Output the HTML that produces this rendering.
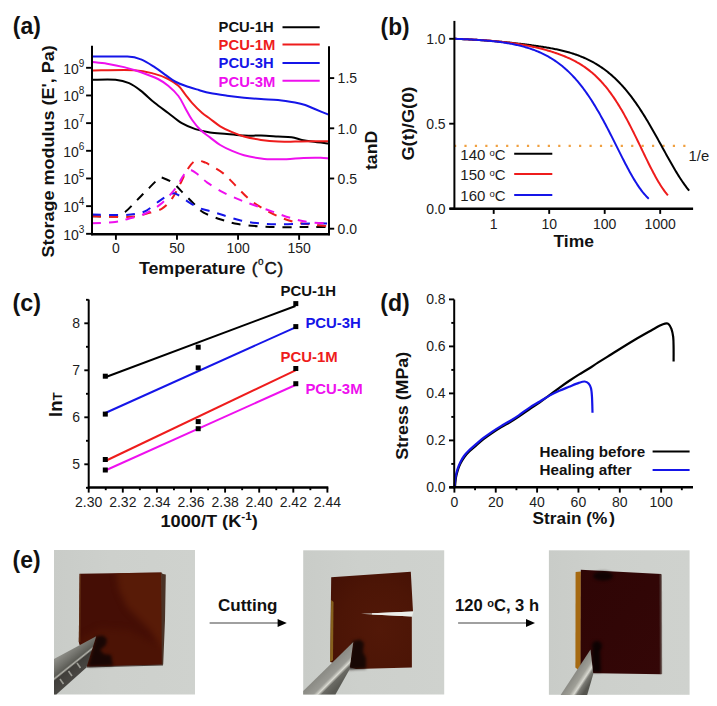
<!DOCTYPE html>
<html><head><meta charset="utf-8"><style>
html,body{margin:0;padding:0;background:#fff;width:717px;height:706px;overflow:hidden}
svg{display:block}
text{font-family:"Liberation Sans",sans-serif}
</style></head><body>
<svg width="717" height="706" viewBox="0 0 717 706">
<rect width="717" height="706" fill="#fff"/>
<text x="12.8" y="34.2" font-size="23" font-weight="bold" fill="#111" text-anchor="start" textLength="28.0" lengthAdjust="spacingAndGlyphs" >(a)</text>
<path d="M92.00,216.20 C95.85,216.20 109.58,216.90 115.10,216.20 C120.62,215.50 121.47,214.65 125.10,212.00 C128.73,209.35 133.27,203.93 136.90,200.30 C140.53,196.67 143.28,193.78 146.90,190.20 C150.52,186.62 155.82,180.80 158.60,178.80 C161.38,176.80 161.08,177.42 163.60,178.20 C166.12,178.98 170.63,181.22 173.70,183.50 C176.77,185.78 178.65,188.55 182.00,191.90 C185.35,195.25 190.20,200.15 193.80,203.60 C197.40,207.05 198.93,209.90 203.60,212.60 C208.27,215.30 216.05,217.90 221.80,219.80 C227.55,221.70 232.07,222.93 238.10,224.00 C244.13,225.07 251.35,225.68 258.00,226.20 C264.65,226.72 271.35,226.95 278.00,227.10 C284.65,227.25 292.17,227.10 297.90,227.10 C303.63,227.10 307.27,227.10 312.40,227.10 C317.53,227.10 325.98,227.10 328.70,227.10" fill="none" stroke="#000" stroke-width="2.00" stroke-linejoin="round" stroke-dasharray="9,8"/>
<path d="M92.00,216.20 C97.25,216.33 116.02,217.00 123.50,217.00 C130.98,217.00 133.00,216.77 136.90,216.20 C140.80,215.63 142.72,214.87 146.90,213.60 C151.08,212.33 157.82,211.10 162.00,208.60 C166.18,206.10 168.93,202.78 172.00,198.60 C175.07,194.42 177.88,188.25 180.40,183.50 C182.92,178.75 184.60,173.87 187.10,170.10 C189.60,166.33 192.33,162.15 195.40,160.90 C198.47,159.65 203.07,161.90 205.50,162.60 C207.93,163.30 206.98,163.27 210.00,165.10 C213.02,166.93 219.22,170.07 223.60,173.60 C227.98,177.13 232.07,182.07 236.30,186.30 C240.53,190.53 244.47,195.23 249.00,199.00 C253.53,202.77 258.37,205.88 263.50,208.90 C268.63,211.92 274.37,214.83 279.80,217.10 C285.23,219.37 290.67,221.23 296.10,222.50 C301.53,223.77 306.97,224.08 312.40,224.70 C317.83,225.32 325.98,225.95 328.70,226.20" fill="none" stroke="#ee1c1c" stroke-width="2.00" stroke-linejoin="round" stroke-dasharray="9,8"/>
<path d="M92.00,214.50 C97.25,214.58 116.02,215.15 123.50,215.00 C130.98,214.85 133.00,214.38 136.90,213.60 C140.80,212.82 143.00,212.52 146.90,210.30 C150.80,208.08 156.12,203.08 160.30,200.30 C164.48,197.52 169.22,194.58 172.00,193.60 C174.78,192.62 174.48,193.15 177.00,194.40 C179.52,195.65 183.47,198.87 187.10,201.10 C190.73,203.33 194.98,206.13 198.80,207.80 C202.62,209.47 205.87,209.85 210.00,211.10 C214.13,212.35 218.32,213.70 223.60,215.30 C228.88,216.90 235.67,219.35 241.70,220.70 C247.73,222.05 253.75,222.80 259.80,223.40 C265.85,224.00 271.95,224.20 278.00,224.30 C284.05,224.40 290.37,224.15 296.10,224.00 C301.83,223.85 306.97,223.50 312.40,223.40 C317.83,223.30 325.98,223.40 328.70,223.40" fill="none" stroke="#1515e8" stroke-width="2.00" stroke-linejoin="round" stroke-dasharray="9,8"/>
<path d="M92.00,223.20 C95.85,223.00 109.02,222.75 115.10,222.00 C121.18,221.25 123.48,220.10 128.50,218.70 C133.52,217.30 139.90,215.98 145.20,213.60 C150.50,211.22 155.83,207.88 160.30,204.40 C164.77,200.92 168.93,196.18 172.00,192.70 C175.07,189.22 176.75,186.43 178.70,183.50 C180.65,180.57 181.75,177.33 183.70,175.10 C185.65,172.87 187.88,170.10 190.40,170.10 C192.92,170.10 195.98,173.02 198.80,175.10 C201.62,177.18 203.17,179.68 207.30,182.60 C211.43,185.52 218.17,189.72 223.60,192.60 C229.03,195.48 234.77,197.78 239.90,199.90 C245.03,202.02 248.97,203.35 254.40,205.30 C259.83,207.25 266.45,209.48 272.50,211.60 C278.55,213.72 284.65,216.23 290.70,218.00 C296.75,219.77 302.47,221.30 308.80,222.20 C315.13,223.10 325.38,223.20 328.70,223.40" fill="none" stroke="#ee10ee" stroke-width="2.00" stroke-linejoin="round" stroke-dasharray="9,8"/>
<path d="M92.50,79.80 C96.33,79.80 109.40,79.23 115.50,79.80 C121.60,80.37 124.85,81.35 129.10,83.20 C133.35,85.05 136.75,87.63 141.00,90.90 C145.25,94.17 150.07,99.12 154.60,102.80 C159.13,106.48 163.67,109.60 168.20,113.00 C172.73,116.40 177.27,120.52 181.80,123.20 C186.33,125.88 190.70,127.57 195.40,129.10 C200.10,130.63 204.73,131.60 210.00,132.40 C215.27,133.20 221.33,133.37 227.00,133.90 C232.67,134.43 238.33,135.32 244.00,135.60 C249.67,135.88 255.33,135.45 261.00,135.60 C266.67,135.75 272.90,136.22 278.00,136.50 C283.10,136.78 287.63,136.73 291.60,137.30 C295.57,137.87 298.40,139.18 301.80,139.90 C305.20,140.62 307.53,140.98 312.00,141.60 C316.47,142.22 325.83,143.27 328.60,143.60" fill="none" stroke="#000" stroke-width="2.00" stroke-linejoin="round" />
<path d="M92.50,70.50 C99.45,70.45 123.85,69.63 134.20,70.20 C144.55,70.77 148.93,72.43 154.60,73.90 C160.27,75.37 164.23,77.02 168.20,79.00 C172.17,80.98 175.57,83.25 178.40,85.80 C181.23,88.35 182.93,91.47 185.20,94.30 C187.47,97.13 189.17,99.68 192.00,102.80 C194.83,105.92 199.20,110.35 202.20,113.00 C205.20,115.65 207.00,116.48 210.00,118.70 C213.00,120.92 216.52,124.05 220.20,126.30 C223.88,128.55 228.13,130.50 232.10,132.20 C236.07,133.90 239.18,135.22 244.00,136.50 C248.82,137.78 255.33,139.05 261.00,139.90 C266.67,140.75 272.33,141.32 278.00,141.60 C283.67,141.88 289.33,141.65 295.00,141.60 C300.67,141.55 306.40,141.35 312.00,141.30 C317.60,141.25 325.83,141.30 328.60,141.30" fill="none" stroke="#ee1c1c" stroke-width="2.00" stroke-linejoin="round" />
<path d="M92.50,56.60 C98.32,56.60 119.32,56.13 127.40,56.60 C135.48,57.07 136.47,57.65 141.00,59.40 C145.53,61.15 150.35,64.40 154.60,67.10 C158.85,69.80 163.10,73.20 166.50,75.60 C169.90,78.00 171.88,79.80 175.00,81.50 C178.12,83.20 181.23,84.38 185.20,85.80 C189.17,87.22 194.67,88.78 198.80,90.00 C202.93,91.22 205.30,92.15 210.00,93.10 C214.70,94.05 221.33,94.93 227.00,95.70 C232.67,96.47 238.33,97.13 244.00,97.70 C249.67,98.27 255.33,98.73 261.00,99.10 C266.67,99.47 272.33,99.33 278.00,99.90 C283.67,100.47 290.47,101.65 295.00,102.50 C299.53,103.35 301.80,103.87 305.20,105.00 C308.60,106.13 311.50,107.70 315.40,109.30 C319.30,110.90 326.40,113.72 328.60,114.60" fill="none" stroke="#1515e8" stroke-width="2.00" stroke-linejoin="round" />
<path d="M92.50,62.00 C94.92,62.28 101.75,62.85 107.00,63.70 C112.25,64.55 118.33,65.68 124.00,67.10 C129.67,68.52 135.33,70.22 141.00,72.20 C146.67,74.18 153.47,76.73 158.00,79.00 C162.53,81.27 164.80,82.97 168.20,85.80 C171.60,88.63 175.57,92.32 178.40,96.00 C181.23,99.68 182.93,103.93 185.20,107.90 C187.47,111.87 189.45,116.12 192.00,119.80 C194.55,123.48 197.50,127.07 200.50,130.00 C203.50,132.93 206.72,134.90 210.00,137.40 C213.28,139.90 216.52,142.75 220.20,145.00 C223.88,147.25 228.13,149.20 232.10,150.90 C236.07,152.60 239.18,153.92 244.00,155.20 C248.82,156.48 256.75,157.93 261.00,158.60 C265.25,159.27 265.25,159.10 269.50,159.20 C273.75,159.30 280.83,159.42 286.50,159.20 C292.17,158.98 297.83,158.15 303.50,157.90 C309.17,157.65 316.32,157.62 320.50,157.70 C324.68,157.78 327.25,158.28 328.60,158.40" fill="none" stroke="#ee10ee" stroke-width="2.00" stroke-linejoin="round" />
<line x1="92.00" y1="45.70" x2="92.00" y2="235.20" stroke="#000" stroke-width="2.00" />
<line x1="329.00" y1="46.30" x2="329.00" y2="235.20" stroke="#000" stroke-width="2.00" />
<line x1="91.10" y1="234.20" x2="329.90" y2="234.20" stroke="#000" stroke-width="2.40" />
<line x1="86.10" y1="233.82" x2="92.00" y2="233.82" stroke="#000" stroke-width="1.90" />
<text x="78.8" y="239.6" font-size="14" font-weight="normal" fill="#1c1c1c" text-anchor="end" >10</text>
<text x="78.7" y="232.5" font-size="10" font-weight="normal" fill="#1c1c1c" text-anchor="start" >3</text>
<line x1="86.10" y1="206.15" x2="92.00" y2="206.15" stroke="#000" stroke-width="1.90" />
<text x="78.8" y="212.0" font-size="14" font-weight="normal" fill="#1c1c1c" text-anchor="end" >10</text>
<text x="78.7" y="204.9" font-size="10" font-weight="normal" fill="#1c1c1c" text-anchor="start" >4</text>
<line x1="86.10" y1="178.48" x2="92.00" y2="178.48" stroke="#000" stroke-width="1.90" />
<text x="78.8" y="184.3" font-size="14" font-weight="normal" fill="#1c1c1c" text-anchor="end" >10</text>
<text x="78.7" y="177.2" font-size="10" font-weight="normal" fill="#1c1c1c" text-anchor="start" >5</text>
<line x1="86.10" y1="150.81" x2="92.00" y2="150.81" stroke="#000" stroke-width="1.90" />
<text x="78.8" y="156.6" font-size="14" font-weight="normal" fill="#1c1c1c" text-anchor="end" >10</text>
<text x="78.7" y="149.5" font-size="10" font-weight="normal" fill="#1c1c1c" text-anchor="start" >6</text>
<line x1="86.10" y1="123.14" x2="92.00" y2="123.14" stroke="#000" stroke-width="1.90" />
<text x="78.8" y="128.9" font-size="14" font-weight="normal" fill="#1c1c1c" text-anchor="end" >10</text>
<text x="78.7" y="121.8" font-size="10" font-weight="normal" fill="#1c1c1c" text-anchor="start" >7</text>
<line x1="86.10" y1="95.47" x2="92.00" y2="95.47" stroke="#000" stroke-width="1.90" />
<text x="78.8" y="101.3" font-size="14" font-weight="normal" fill="#1c1c1c" text-anchor="end" >10</text>
<text x="78.7" y="94.2" font-size="10" font-weight="normal" fill="#1c1c1c" text-anchor="start" >8</text>
<line x1="86.10" y1="67.80" x2="92.00" y2="67.80" stroke="#000" stroke-width="1.90" />
<text x="78.8" y="73.6" font-size="14" font-weight="normal" fill="#1c1c1c" text-anchor="end" >10</text>
<text x="78.7" y="66.5" font-size="10" font-weight="normal" fill="#1c1c1c" text-anchor="start" >9</text>
<line x1="115.90" y1="234.20" x2="115.90" y2="239.80" stroke="#000" stroke-width="1.90" />
<text x="115.9" y="253.2" font-size="14" font-weight="normal" fill="#1c1c1c" text-anchor="middle" >0</text>
<line x1="176.98" y1="234.20" x2="176.98" y2="239.80" stroke="#000" stroke-width="1.90" />
<text x="177.0" y="253.2" font-size="14" font-weight="normal" fill="#1c1c1c" text-anchor="middle" >50</text>
<line x1="238.05" y1="234.20" x2="238.05" y2="239.80" stroke="#000" stroke-width="1.90" />
<text x="238.1" y="253.2" font-size="14" font-weight="normal" fill="#1c1c1c" text-anchor="middle" >100</text>
<line x1="299.12" y1="234.20" x2="299.12" y2="239.80" stroke="#000" stroke-width="1.90" />
<text x="299.1" y="253.2" font-size="14" font-weight="normal" fill="#1c1c1c" text-anchor="middle" >150</text>
<line x1="329.00" y1="228.70" x2="334.20" y2="228.70" stroke="#000" stroke-width="1.90" />
<text x="337.6" y="233.9" font-size="14" font-weight="normal" fill="#1c1c1c" text-anchor="start" >0.0</text>
<line x1="329.00" y1="178.50" x2="334.20" y2="178.50" stroke="#000" stroke-width="1.90" />
<text x="337.6" y="183.7" font-size="14" font-weight="normal" fill="#1c1c1c" text-anchor="start" >0.5</text>
<line x1="329.00" y1="128.30" x2="334.20" y2="128.30" stroke="#000" stroke-width="1.90" />
<text x="337.6" y="133.5" font-size="14" font-weight="normal" fill="#1c1c1c" text-anchor="start" >1.0</text>
<line x1="329.00" y1="78.10" x2="334.20" y2="78.10" stroke="#000" stroke-width="1.90" />
<text x="337.6" y="83.3" font-size="14" font-weight="normal" fill="#1c1c1c" text-anchor="start" >1.5</text>
<text x="138.9" y="274.2" font-size="17" font-weight="bold" fill="#111" text-anchor="start" textLength="106.6" lengthAdjust="spacingAndGlyphs" >Temperature</text>
<text x="251.8" y="274.2" font-size="17" font-weight="normal" fill="#111" text-anchor="start" stroke="#111" stroke-width="0.45">(</text>
<text x="257.9" y="264.8" font-size="10" font-weight="normal" fill="#111" text-anchor="start" stroke="#111" stroke-width="0.3">o</text>
<text x="264.6" y="274.2" font-size="17" font-weight="normal" fill="#111" text-anchor="start" stroke="#111" stroke-width="0.45">C</text>
<text x="277.6" y="274.2" font-size="17" font-weight="normal" fill="#111" text-anchor="start" stroke="#111" stroke-width="0.45">)</text>
<text transform="translate(54,257.6) rotate(-90)" font-size="17" font-weight="bold" fill="#111" textLength="212.3" lengthAdjust="spacingAndGlyphs">Storage modulus (E', Pa)</text>
<text transform="translate(377.0,170.0) rotate(-90)" font-size="17" font-weight="bold" fill="#111" textLength="39.2" lengthAdjust="spacingAndGlyphs">tanD</text>
<text x="218.6" y="31.9" font-size="15" font-weight="bold" fill="#111" text-anchor="start" textLength="55.0" lengthAdjust="spacingAndGlyphs" >PCU-1H</text>
<line x1="282.50" y1="27.20" x2="319.70" y2="27.20" stroke="#000" stroke-width="2.00" />
<text x="218.6" y="49.8" font-size="15" font-weight="bold" fill="#ee1c1c" text-anchor="start" textLength="56.8" lengthAdjust="spacingAndGlyphs" >PCU-1M</text>
<line x1="282.50" y1="44.50" x2="319.70" y2="44.50" stroke="#ee1c1c" stroke-width="2.00" />
<text x="218.6" y="68.3" font-size="15" font-weight="bold" fill="#1515e8" text-anchor="start" textLength="55.0" lengthAdjust="spacingAndGlyphs" >PCU-3H</text>
<line x1="282.50" y1="62.90" x2="319.70" y2="62.90" stroke="#1515e8" stroke-width="2.00" />
<text x="218.6" y="86.6" font-size="15" font-weight="bold" fill="#ee10ee" text-anchor="start" textLength="56.8" lengthAdjust="spacingAndGlyphs" >PCU-3M</text>
<line x1="282.50" y1="80.70" x2="319.70" y2="80.70" stroke="#ee10ee" stroke-width="2.00" />
<text x="380.6" y="35.3" font-size="23" font-weight="bold" fill="#111" text-anchor="start" textLength="29.0" lengthAdjust="spacingAndGlyphs" >(b)</text>
<line x1="454.00" y1="145.80" x2="686.00" y2="145.80" stroke="#f0a040" stroke-width="2.20" stroke-dasharray="2.2,8.22"/>
<path d="M454.50,38.80 L455.50,38.84 L456.50,38.88 L457.50,38.92 L458.50,38.96 L459.50,39.00 L460.50,39.04 L461.50,39.08 L462.50,39.13 L463.50,39.18 L464.50,39.22 L465.50,39.27 L466.50,39.32 L467.50,39.37 L468.50,39.42 L469.50,39.47 L470.50,39.53 L471.50,39.58 L472.50,39.64 L473.50,39.69 L474.50,39.75 L475.50,39.81 L476.50,39.87 L477.50,39.93 L478.50,40.00 L479.50,40.06 L480.50,40.13 L481.50,40.20 L482.50,40.26 L483.50,40.33 L484.50,40.40 L485.50,40.48 L486.50,40.55 L487.50,40.63 L488.50,40.70 L489.50,40.78 L490.50,40.86 L491.50,40.94 L492.50,41.02 L493.50,41.11 L494.50,41.19 L495.50,41.28 L496.50,41.36 L497.50,41.45 L498.50,41.54 L499.50,41.63 L500.50,41.73 L501.50,41.82 L502.50,41.92 L503.50,42.01 L504.50,42.11 L505.50,42.21 L506.50,42.31 L507.50,42.41 L508.50,42.52 L509.50,42.62 L510.50,42.73 L511.50,42.83 L512.50,42.94 L513.50,43.05 L514.50,43.16 L515.50,43.28 L516.50,43.39 L517.50,43.50 L518.50,43.62 L519.50,43.74 L520.50,43.86 L521.50,43.98 L522.50,44.10 L523.50,44.22 L524.50,44.34 L525.50,44.47 L526.50,44.59 L527.50,44.72 L528.50,44.85 L529.50,44.98 L530.50,45.11 L531.50,45.25 L532.50,45.38 L533.50,45.52 L534.50,45.66 L535.50,45.80 L536.50,45.94 L537.50,46.08 L538.50,46.23 L539.50,46.38 L540.50,46.53 L541.50,46.68 L542.50,46.84 L543.50,46.99 L544.50,47.15 L545.50,47.32 L546.50,47.48 L547.50,47.65 L548.50,47.83 L549.50,48.00 L550.50,48.18 L551.50,48.37 L552.50,48.56 L553.50,48.75 L554.50,48.95 L555.50,49.15 L556.50,49.35 L557.50,49.56 L558.50,49.78 L559.50,50.00 L560.50,50.23 L561.50,50.46 L562.50,50.70 L563.50,50.95 L564.50,51.20 L565.50,51.46 L566.50,51.72 L567.50,52.00 L568.50,52.28 L569.50,52.56 L570.50,52.86 L571.50,53.16 L572.50,53.48 L573.50,53.80 L574.50,54.13 L575.50,54.47 L576.50,54.81 L577.50,55.17 L578.50,55.54 L579.50,55.92 L580.50,56.31 L581.50,56.71 L582.50,57.12 L583.50,57.54 L584.50,57.97 L585.50,58.42 L586.50,58.87 L587.50,59.34 L588.50,59.82 L589.50,60.32 L590.50,60.83 L591.50,61.35 L592.50,61.88 L593.50,62.43 L594.50,63.00 L595.50,63.58 L596.50,64.17 L597.50,64.78 L598.50,65.41 L599.50,66.05 L600.50,66.71 L601.50,67.38 L602.50,68.08 L603.50,68.79 L604.50,69.51 L605.50,70.26 L606.50,71.02 L607.50,71.81 L608.50,72.61 L609.50,73.43 L610.50,74.27 L611.50,75.13 L612.50,76.01 L613.50,76.91 L614.50,77.84 L615.50,78.78 L616.50,79.75 L617.50,80.73 L618.50,81.74 L619.50,82.77 L620.50,83.83 L621.50,84.91 L622.50,86.01 L623.50,87.13 L624.50,88.27 L625.50,89.44 L626.50,90.64 L627.50,91.85 L628.50,93.10 L629.50,94.36 L630.50,95.65 L631.50,96.96 L632.50,98.30 L633.50,99.66 L634.50,101.04 L635.50,102.45 L636.50,103.88 L637.50,105.33 L638.50,106.81 L639.50,108.31 L640.50,109.83 L641.50,111.37 L642.50,112.94 L643.50,114.53 L644.50,116.13 L645.50,117.76 L646.50,119.41 L647.50,121.07 L648.50,122.75 L649.50,124.46 L650.50,126.17 L651.50,127.90 L652.50,129.65 L653.50,131.41 L654.50,133.18 L655.50,134.97 L656.50,136.76 L657.50,138.56 L658.50,140.37 L659.50,142.19 L660.50,144.01 L661.50,145.83 L662.50,147.66 L663.50,149.48 L664.50,151.30 L665.50,153.12 L666.50,154.94 L667.50,156.74 L668.50,158.54 L669.50,160.33 L670.50,162.10 L671.50,163.86 L672.50,165.61 L673.50,167.33 L674.50,169.04 L675.50,170.72 L676.50,172.38 L677.50,174.02 L678.50,175.63 L679.50,177.20 L680.50,178.75 L681.50,180.26 L682.50,181.74 L683.50,183.19 L684.50,184.59 L685.50,185.96 L686.50,187.29 L687.50,188.57 L688.50,189.82 L689.20,190.66" fill="none" stroke="#000" stroke-width="2.00" stroke-linejoin="round" />
<path d="M454.50,38.80 L455.50,38.83 L456.50,38.86 L457.50,38.90 L458.50,38.93 L459.50,38.97 L460.50,39.01 L461.50,39.04 L462.50,39.08 L463.50,39.12 L464.50,39.16 L465.50,39.21 L466.50,39.25 L467.50,39.29 L468.50,39.34 L469.50,39.39 L470.50,39.44 L471.50,39.49 L472.50,39.54 L473.50,39.59 L474.50,39.64 L475.50,39.70 L476.50,39.76 L477.50,39.82 L478.50,39.88 L479.50,39.94 L480.50,40.00 L481.50,40.07 L482.50,40.13 L483.50,40.20 L484.50,40.27 L485.50,40.35 L486.50,40.42 L487.50,40.50 L488.50,40.58 L489.50,40.66 L490.50,40.74 L491.50,40.82 L492.50,40.91 L493.50,41.00 L494.50,41.09 L495.50,41.18 L496.50,41.28 L497.50,41.38 L498.50,41.48 L499.50,41.58 L500.50,41.69 L501.50,41.80 L502.50,41.91 L503.50,42.02 L504.50,42.14 L505.50,42.26 L506.50,42.38 L507.50,42.50 L508.50,42.63 L509.50,42.76 L510.50,42.90 L511.50,43.03 L512.50,43.17 L513.50,43.32 L514.50,43.46 L515.50,43.61 L516.50,43.77 L517.50,43.92 L518.50,44.08 L519.50,44.25 L520.50,44.41 L521.50,44.58 L522.50,44.76 L523.50,44.93 L524.50,45.12 L525.50,45.30 L526.50,45.49 L527.50,45.68 L528.50,45.88 L529.50,46.08 L530.50,46.28 L531.50,46.49 L532.50,46.71 L533.50,46.92 L534.50,47.14 L535.50,47.37 L536.50,47.60 L537.50,47.83 L538.50,48.07 L539.50,48.32 L540.50,48.57 L541.50,48.82 L542.50,49.08 L543.50,49.34 L544.50,49.61 L545.50,49.88 L546.50,50.16 L547.50,50.45 L548.50,50.74 L549.50,51.03 L550.50,51.33 L551.50,51.64 L552.50,51.96 L553.50,52.28 L554.50,52.60 L555.50,52.94 L556.50,53.28 L557.50,53.63 L558.50,53.98 L559.50,54.34 L560.50,54.72 L561.50,55.09 L562.50,55.48 L563.50,55.88 L564.50,56.29 L565.50,56.70 L566.50,57.13 L567.50,57.56 L568.50,58.01 L569.50,58.46 L570.50,58.93 L571.50,59.41 L572.50,59.90 L573.50,60.41 L574.50,60.93 L575.50,61.46 L576.50,62.00 L577.50,62.57 L578.50,63.14 L579.50,63.73 L580.50,64.34 L581.50,64.96 L582.50,65.61 L583.50,66.27 L584.50,66.94 L585.50,67.64 L586.50,68.36 L587.50,69.10 L588.50,69.85 L589.50,70.63 L590.50,71.44 L591.50,72.26 L592.50,73.11 L593.50,73.98 L594.50,74.87 L595.50,75.79 L596.50,76.74 L597.50,77.71 L598.50,78.71 L599.50,79.73 L600.50,80.79 L601.50,81.87 L602.50,82.98 L603.50,84.11 L604.50,85.28 L605.50,86.48 L606.50,87.71 L607.50,88.96 L608.50,90.25 L609.50,91.57 L610.50,92.92 L611.50,94.30 L612.50,95.72 L613.50,97.16 L614.50,98.64 L615.50,100.15 L616.50,101.69 L617.50,103.26 L618.50,104.86 L619.50,106.50 L620.50,108.16 L621.50,109.86 L622.50,111.59 L623.50,113.34 L624.50,115.12 L625.50,116.94 L626.50,118.78 L627.50,120.64 L628.50,122.53 L629.50,124.45 L630.50,126.39 L631.50,128.35 L632.50,130.33 L633.50,132.32 L634.50,134.34 L635.50,136.37 L636.50,138.42 L637.50,140.47 L638.50,142.54 L639.50,144.61 L640.50,146.69 L641.50,148.77 L642.50,150.85 L643.50,152.93 L644.50,155.00 L645.50,157.07 L646.50,159.12 L647.50,161.17 L648.50,163.19 L649.50,165.20 L650.50,167.18 L651.50,169.14 L652.50,171.07 L653.50,172.97 L654.50,174.84 L655.50,176.66 L656.50,178.45 L657.50,180.20 L658.50,181.90 L659.50,183.56 L660.50,185.17 L661.50,186.72 L662.50,188.22 L663.50,189.67 L664.50,191.06 L665.50,192.39 L666.50,193.66 L667.50,194.87 L667.90,195.34" fill="none" stroke="#ee1c1c" stroke-width="2.00" stroke-linejoin="round" />
<path d="M454.50,38.80 L455.50,38.83 L456.50,38.87 L457.50,38.90 L458.50,38.94 L459.50,38.97 L460.50,39.01 L461.50,39.05 L462.50,39.09 L463.50,39.13 L464.50,39.17 L465.50,39.22 L466.50,39.26 L467.50,39.31 L468.50,39.36 L469.50,39.41 L470.50,39.46 L471.50,39.52 L472.50,39.57 L473.50,39.63 L474.50,39.69 L475.50,39.75 L476.50,39.81 L477.50,39.88 L478.50,39.94 L479.50,40.01 L480.50,40.08 L481.50,40.16 L482.50,40.23 L483.50,40.31 L484.50,40.39 L485.50,40.48 L486.50,40.56 L487.50,40.65 L488.50,40.74 L489.50,40.84 L490.50,40.93 L491.50,41.04 L492.50,41.14 L493.50,41.25 L494.50,41.36 L495.50,41.47 L496.50,41.59 L497.50,41.71 L498.50,41.84 L499.50,41.96 L500.50,42.10 L501.50,42.24 L502.50,42.38 L503.50,42.52 L504.50,42.67 L505.50,42.83 L506.50,42.99 L507.50,43.16 L508.50,43.33 L509.50,43.50 L510.50,43.68 L511.50,43.87 L512.50,44.06 L513.50,44.26 L514.50,44.47 L515.50,44.68 L516.50,44.90 L517.50,45.12 L518.50,45.36 L519.50,45.59 L520.50,45.84 L521.50,46.09 L522.50,46.36 L523.50,46.62 L524.50,46.90 L525.50,47.19 L526.50,47.48 L527.50,47.79 L528.50,48.10 L529.50,48.42 L530.50,48.75 L531.50,49.10 L532.50,49.45 L533.50,49.81 L534.50,50.18 L535.50,50.57 L536.50,50.96 L537.50,51.37 L538.50,51.79 L539.50,52.22 L540.50,52.67 L541.50,53.12 L542.50,53.59 L543.50,54.08 L544.50,54.58 L545.50,55.09 L546.50,55.61 L547.50,56.16 L548.50,56.71 L549.50,57.29 L550.50,57.87 L551.50,58.48 L552.50,59.10 L553.50,59.74 L554.50,60.40 L555.50,61.07 L556.50,61.76 L557.50,62.48 L558.50,63.21 L559.50,63.96 L560.50,64.73 L561.50,65.52 L562.50,66.33 L563.50,67.16 L564.50,68.01 L565.50,68.89 L566.50,69.78 L567.50,70.70 L568.50,71.64 L569.50,72.61 L570.50,73.60 L571.50,74.61 L572.50,75.65 L573.50,76.71 L574.50,77.80 L575.50,78.91 L576.50,80.05 L577.50,81.21 L578.50,82.40 L579.50,83.62 L580.50,84.86 L581.50,86.13 L582.50,87.43 L583.50,88.75 L584.50,90.11 L585.50,91.48 L586.50,92.89 L587.50,94.32 L588.50,95.78 L589.50,97.27 L590.50,98.79 L591.50,100.33 L592.50,101.90 L593.50,103.49 L594.50,105.11 L595.50,106.76 L596.50,108.44 L597.50,110.14 L598.50,111.86 L599.50,113.61 L600.50,115.38 L601.50,117.17 L602.50,118.99 L603.50,120.83 L604.50,122.69 L605.50,124.56 L606.50,126.46 L607.50,128.37 L608.50,130.30 L609.50,132.25 L610.50,134.20 L611.50,136.17 L612.50,138.15 L613.50,140.13 L614.50,142.13 L615.50,144.13 L616.50,146.13 L617.50,148.13 L618.50,150.13 L619.50,152.13 L620.50,154.12 L621.50,156.11 L622.50,158.08 L623.50,160.04 L624.50,161.99 L625.50,163.92 L626.50,165.83 L627.50,167.72 L628.50,169.59 L629.50,171.43 L630.50,173.23 L631.50,175.01 L632.50,176.75 L633.50,178.46 L634.50,180.13 L635.50,181.75 L636.50,183.34 L637.50,184.88 L638.50,186.37 L639.50,187.81 L640.50,189.20 L641.50,190.55 L642.50,191.84 L643.50,193.07 L644.50,194.26 L645.50,195.38 L646.50,196.46 L647.50,197.47 L648.50,198.44 L648.80,198.71" fill="none" stroke="#1515e8" stroke-width="2.00" stroke-linejoin="round" />
<line x1="454.40" y1="20.90" x2="454.40" y2="209.70" stroke="#000" stroke-width="2.00" />
<line x1="449.50" y1="208.70" x2="693.10" y2="208.70" stroke="#000" stroke-width="2.40" />
<line x1="449.20" y1="208.60" x2="454.40" y2="208.60" stroke="#000" stroke-width="1.90" />
<text x="445.6" y="213.6" font-size="14" font-weight="normal" fill="#1c1c1c" text-anchor="end" >0.0</text>
<line x1="449.20" y1="123.70" x2="454.40" y2="123.70" stroke="#000" stroke-width="1.90" />
<text x="445.6" y="128.7" font-size="14" font-weight="normal" fill="#1c1c1c" text-anchor="end" >0.5</text>
<line x1="449.20" y1="38.80" x2="454.40" y2="38.80" stroke="#000" stroke-width="1.90" />
<text x="445.6" y="43.8" font-size="14" font-weight="normal" fill="#1c1c1c" text-anchor="end" >1.0</text>
<line x1="493.70" y1="208.70" x2="493.70" y2="213.90" stroke="#000" stroke-width="1.90" />
<text x="493.7" y="228.6" font-size="14" font-weight="normal" fill="#1c1c1c" text-anchor="middle" >1</text>
<line x1="549.20" y1="208.70" x2="549.20" y2="213.90" stroke="#000" stroke-width="1.90" />
<text x="549.2" y="228.6" font-size="14" font-weight="normal" fill="#1c1c1c" text-anchor="middle" >10</text>
<line x1="604.70" y1="208.70" x2="604.70" y2="213.90" stroke="#000" stroke-width="1.90" />
<text x="604.7" y="228.6" font-size="14" font-weight="normal" fill="#1c1c1c" text-anchor="middle" >100</text>
<line x1="660.20" y1="208.70" x2="660.20" y2="213.90" stroke="#000" stroke-width="1.90" />
<text x="660.2" y="228.6" font-size="14" font-weight="normal" fill="#1c1c1c" text-anchor="middle" >1000</text>
<text x="553.5" y="247.4" font-size="17" font-weight="bold" fill="#111" text-anchor="start" textLength="40.5" lengthAdjust="spacingAndGlyphs" >Time</text>
<text transform="translate(413.8,160.6) rotate(-90)" font-size="16.5" font-weight="bold" fill="#111" textLength="74.0" lengthAdjust="spacingAndGlyphs">G(t)/G(0)</text>
<text x="688.6" y="160.5" font-size="14.8" font-weight="normal" fill="#1c1c1c" text-anchor="start" >1/e</text>
<text x="460.3" y="160.1" font-size="15" font-weight="normal" fill="#1c1c1c" text-anchor="start" >140 <tspan font-size="9.5" dy="-4.3">o</tspan><tspan dy="4.3">C</tspan></text>
<line x1="514.20" y1="153.80" x2="552.30" y2="153.80" stroke="#000" stroke-width="2.00" />
<text x="460.3" y="180.2" font-size="15" font-weight="normal" fill="#1c1c1c" text-anchor="start" >150 <tspan font-size="9.5" dy="-4.3">o</tspan><tspan dy="4.3">C</tspan></text>
<line x1="514.20" y1="173.90" x2="552.30" y2="173.90" stroke="#ee1c1c" stroke-width="2.00" />
<text x="460.3" y="201.3" font-size="15" font-weight="normal" fill="#1c1c1c" text-anchor="start" >160 <tspan font-size="9.5" dy="-4.3">o</tspan><tspan dy="4.3">C</tspan></text>
<line x1="514.20" y1="195.00" x2="552.30" y2="195.00" stroke="#1515e8" stroke-width="2.00" />
<text x="12.5" y="311.0" font-size="23" font-weight="bold" fill="#111" text-anchor="start" textLength="28.5" lengthAdjust="spacingAndGlyphs" >(c)</text>
<line x1="105.30" y1="377.20" x2="295.50" y2="306.00" stroke="#000" stroke-width="2.00" />
<line x1="105.30" y1="413.00" x2="295.50" y2="327.30" stroke="#1515e8" stroke-width="2.00" />
<line x1="105.30" y1="461.00" x2="295.50" y2="370.30" stroke="#ee1c1c" stroke-width="2.00" />
<line x1="105.30" y1="470.50" x2="295.50" y2="385.00" stroke="#ee10ee" stroke-width="2.00" />
<rect x="102.8" y="373.7" width="5" height="5" fill="#000"/>
<rect x="195.7" y="344.7" width="5" height="5" fill="#000"/>
<rect x="293.3" y="301.1" width="5" height="5" fill="#000"/>
<rect x="102.8" y="411.6" width="5" height="5" fill="#000"/>
<rect x="195.7" y="365.4" width="5" height="5" fill="#000"/>
<rect x="293.3" y="324.1" width="5" height="5" fill="#000"/>
<rect x="102.8" y="457.0" width="5" height="5" fill="#000"/>
<rect x="195.7" y="419.1" width="5" height="5" fill="#000"/>
<rect x="293.3" y="366.0" width="5" height="5" fill="#000"/>
<rect x="102.8" y="467.5" width="5" height="5" fill="#000"/>
<rect x="195.7" y="426.2" width="5" height="5" fill="#000"/>
<rect x="293.3" y="381.2" width="5" height="5" fill="#000"/>
<line x1="88.70" y1="299.50" x2="88.70" y2="488.50" stroke="#000" stroke-width="2.00" />
<line x1="87.80" y1="487.50" x2="328.30" y2="487.50" stroke="#000" stroke-width="2.40" />
<line x1="86.00" y1="487.80" x2="88.70" y2="487.80" stroke="#000" stroke-width="1.90" />
<line x1="84.30" y1="464.30" x2="88.70" y2="464.30" stroke="#000" stroke-width="1.90" />
<text x="80.0" y="469.3" font-size="14" font-weight="normal" fill="#1c1c1c" text-anchor="end" >5</text>
<line x1="86.00" y1="440.80" x2="88.70" y2="440.80" stroke="#000" stroke-width="1.90" />
<line x1="84.30" y1="417.30" x2="88.70" y2="417.30" stroke="#000" stroke-width="1.90" />
<text x="80.0" y="422.3" font-size="14" font-weight="normal" fill="#1c1c1c" text-anchor="end" >6</text>
<line x1="86.00" y1="393.80" x2="88.70" y2="393.80" stroke="#000" stroke-width="1.90" />
<line x1="84.30" y1="370.30" x2="88.70" y2="370.30" stroke="#000" stroke-width="1.90" />
<text x="80.0" y="375.3" font-size="14" font-weight="normal" fill="#1c1c1c" text-anchor="end" >7</text>
<line x1="86.00" y1="346.80" x2="88.70" y2="346.80" stroke="#000" stroke-width="1.90" />
<line x1="84.30" y1="323.30" x2="88.70" y2="323.30" stroke="#000" stroke-width="1.90" />
<text x="80.0" y="328.3" font-size="14" font-weight="normal" fill="#1c1c1c" text-anchor="end" >8</text>
<line x1="86.00" y1="299.80" x2="88.70" y2="299.80" stroke="#000" stroke-width="1.90" />
<line x1="88.70" y1="487.50" x2="88.70" y2="492.60" stroke="#000" stroke-width="1.90" />
<text x="88.7" y="507.0" font-size="14" font-weight="normal" fill="#1c1c1c" text-anchor="middle" >2.30</text>
<line x1="105.75" y1="487.50" x2="105.75" y2="490.20" stroke="#000" stroke-width="1.90" />
<line x1="122.80" y1="487.50" x2="122.80" y2="492.60" stroke="#000" stroke-width="1.90" />
<text x="122.8" y="507.0" font-size="14" font-weight="normal" fill="#1c1c1c" text-anchor="middle" >2.32</text>
<line x1="139.85" y1="487.50" x2="139.85" y2="490.20" stroke="#000" stroke-width="1.90" />
<line x1="156.90" y1="487.50" x2="156.90" y2="492.60" stroke="#000" stroke-width="1.90" />
<text x="156.9" y="507.0" font-size="14" font-weight="normal" fill="#1c1c1c" text-anchor="middle" >2.34</text>
<line x1="173.95" y1="487.50" x2="173.95" y2="490.20" stroke="#000" stroke-width="1.90" />
<line x1="191.00" y1="487.50" x2="191.00" y2="492.60" stroke="#000" stroke-width="1.90" />
<text x="191.0" y="507.0" font-size="14" font-weight="normal" fill="#1c1c1c" text-anchor="middle" >2.36</text>
<line x1="208.05" y1="487.50" x2="208.05" y2="490.20" stroke="#000" stroke-width="1.90" />
<line x1="225.10" y1="487.50" x2="225.10" y2="492.60" stroke="#000" stroke-width="1.90" />
<text x="225.1" y="507.0" font-size="14" font-weight="normal" fill="#1c1c1c" text-anchor="middle" >2.38</text>
<line x1="242.15" y1="487.50" x2="242.15" y2="490.20" stroke="#000" stroke-width="1.90" />
<line x1="259.20" y1="487.50" x2="259.20" y2="492.60" stroke="#000" stroke-width="1.90" />
<text x="259.2" y="507.0" font-size="14" font-weight="normal" fill="#1c1c1c" text-anchor="middle" >2.40</text>
<line x1="276.25" y1="487.50" x2="276.25" y2="490.20" stroke="#000" stroke-width="1.90" />
<line x1="293.30" y1="487.50" x2="293.30" y2="492.60" stroke="#000" stroke-width="1.90" />
<text x="293.3" y="507.0" font-size="14" font-weight="normal" fill="#1c1c1c" text-anchor="middle" >2.42</text>
<line x1="310.35" y1="487.50" x2="310.35" y2="490.20" stroke="#000" stroke-width="1.90" />
<line x1="327.40" y1="487.50" x2="327.40" y2="492.60" stroke="#000" stroke-width="1.90" />
<text x="327.4" y="507.0" font-size="14" font-weight="normal" fill="#1c1c1c" text-anchor="middle" >2.44</text>
<text x="160.4" y="527.2" font-size="17" font-weight="bold" fill="#111" text-anchor="start" textLength="97.5" lengthAdjust="spacingAndGlyphs" >1000/T (K<tspan font-size="11" dy="-7.5">-1</tspan><tspan dy="7.5">)</tspan></text>
<text transform="translate(61.6,417.0) rotate(-90)" font-size="18.5" font-weight="bold" fill="#111">ln<tspan font-size="13.5">T</tspan></text>
<text x="280.6" y="295.6" font-size="15" font-weight="bold" fill="#111" text-anchor="start" textLength="55.5" lengthAdjust="spacingAndGlyphs" >PCU-1H</text>
<text x="305.4" y="328.2" font-size="15" font-weight="bold" fill="#1515e8" text-anchor="start" textLength="55.5" lengthAdjust="spacingAndGlyphs" >PCU-3H</text>
<text x="280.6" y="362.3" font-size="15" font-weight="bold" fill="#ee1c1c" text-anchor="start" textLength="57.2" lengthAdjust="spacingAndGlyphs" >PCU-1M</text>
<text x="305.4" y="394.2" font-size="15" font-weight="bold" fill="#ee10ee" text-anchor="start" textLength="57.2" lengthAdjust="spacingAndGlyphs" >PCU-3M</text>
<text x="380.3" y="311.3" font-size="23" font-weight="bold" fill="#111" text-anchor="start" textLength="29.5" lengthAdjust="spacingAndGlyphs" >(d)</text>
<path d="M454.90,487.60 C455.08,485.90 455.50,480.37 456.00,477.40 C456.50,474.43 457.13,472.15 457.90,469.80 C458.67,467.45 459.52,465.43 460.60,463.30 C461.68,461.17 462.92,459.00 464.40,457.00 C465.88,455.00 467.57,453.20 469.50,451.30 C471.43,449.40 473.67,447.62 476.00,445.60 C478.33,443.58 480.77,441.33 483.50,439.20 C486.23,437.07 489.42,434.82 492.40,432.80 C495.38,430.78 498.42,428.90 501.40,427.10 C504.38,425.30 507.33,423.80 510.30,422.00 C513.27,420.20 516.02,418.42 519.20,416.30 C522.38,414.18 525.97,411.63 529.40,409.30 C532.83,406.97 536.45,404.67 539.80,402.30 C543.15,399.93 546.25,397.52 549.50,395.10 C552.75,392.68 556.05,390.15 559.30,387.80 C562.55,385.45 565.75,383.20 569.00,381.00 C572.25,378.80 575.53,376.63 578.80,374.60 C582.07,372.57 585.35,370.83 588.60,368.80 C591.85,366.77 594.57,364.78 598.30,362.40 C602.03,360.02 605.05,358.18 611.00,354.50 C616.95,350.82 627.17,344.38 634.00,340.30 C640.83,336.22 647.67,332.45 652.00,330.00 C656.33,327.55 657.83,326.67 660.00,325.60 C662.17,324.53 663.58,323.87 665.00,323.60 C666.42,323.33 667.43,323.12 668.50,324.00 C669.57,324.88 670.62,326.73 671.40,328.90 C672.18,331.07 672.83,333.82 673.20,337.00 C673.57,340.18 673.53,343.90 673.60,348.00 C673.67,352.10 673.60,359.33 673.60,361.60" fill="none" stroke="#000" stroke-width="2.20" stroke-linejoin="round" />
<path d="M454.50,487.20 C454.70,485.40 455.18,479.47 455.70,476.40 C456.22,473.33 456.85,471.13 457.60,468.80 C458.35,466.47 459.13,464.53 460.20,462.40 C461.27,460.27 462.52,458.02 464.00,456.00 C465.48,453.98 467.18,452.20 469.10,450.30 C471.02,448.40 473.17,446.62 475.50,444.60 C477.83,442.58 480.35,440.33 483.10,438.20 C485.85,436.07 489.02,433.82 492.00,431.80 C494.98,429.78 498.02,427.90 501.00,426.10 C503.98,424.30 506.93,422.80 509.90,421.00 C512.87,419.20 515.45,417.58 518.80,415.30 C522.15,413.02 526.50,409.60 530.00,407.30 C533.50,405.00 536.55,403.45 539.80,401.50 C543.05,399.55 546.25,397.38 549.50,395.60 C552.75,393.82 556.05,392.27 559.30,390.80 C562.55,389.33 565.75,388.12 569.00,386.80 C572.25,385.48 576.18,383.78 578.80,382.90 C581.42,382.02 583.07,381.42 584.70,381.50 C586.33,381.58 587.55,382.27 588.60,383.40 C589.65,384.53 590.43,386.02 591.00,388.30 C591.57,390.58 591.75,393.03 592.00,397.10 C592.25,401.17 592.42,410.10 592.50,412.70" fill="none" stroke="#1515e8" stroke-width="2.20" stroke-linejoin="round" />
<line x1="454.20" y1="299.50" x2="454.20" y2="488.20" stroke="#000" stroke-width="2.00" />
<line x1="449.30" y1="487.20" x2="693.00" y2="487.20" stroke="#000" stroke-width="2.40" />
<line x1="449.00" y1="487.40" x2="454.20" y2="487.40" stroke="#000" stroke-width="1.90" />
<text x="445.6" y="492.4" font-size="14" font-weight="normal" fill="#1c1c1c" text-anchor="end" >0.0</text>
<line x1="451.30" y1="463.90" x2="454.20" y2="463.90" stroke="#000" stroke-width="1.90" />
<line x1="449.00" y1="440.40" x2="454.20" y2="440.40" stroke="#000" stroke-width="1.90" />
<text x="445.6" y="445.4" font-size="14" font-weight="normal" fill="#1c1c1c" text-anchor="end" >0.2</text>
<line x1="451.30" y1="416.90" x2="454.20" y2="416.90" stroke="#000" stroke-width="1.90" />
<line x1="449.00" y1="393.40" x2="454.20" y2="393.40" stroke="#000" stroke-width="1.90" />
<text x="445.6" y="398.4" font-size="14" font-weight="normal" fill="#1c1c1c" text-anchor="end" >0.4</text>
<line x1="451.30" y1="369.90" x2="454.20" y2="369.90" stroke="#000" stroke-width="1.90" />
<line x1="449.00" y1="346.40" x2="454.20" y2="346.40" stroke="#000" stroke-width="1.90" />
<text x="445.6" y="351.4" font-size="14" font-weight="normal" fill="#1c1c1c" text-anchor="end" >0.6</text>
<line x1="451.30" y1="322.90" x2="454.20" y2="322.90" stroke="#000" stroke-width="1.90" />
<line x1="449.00" y1="299.40" x2="454.20" y2="299.40" stroke="#000" stroke-width="1.90" />
<text x="445.6" y="304.4" font-size="14" font-weight="normal" fill="#1c1c1c" text-anchor="end" >0.8</text>
<line x1="454.40" y1="487.20" x2="454.40" y2="492.60" stroke="#000" stroke-width="1.90" />
<text x="454.4" y="507.2" font-size="14" font-weight="normal" fill="#1c1c1c" text-anchor="middle" >0</text>
<line x1="475.07" y1="487.20" x2="475.07" y2="490.20" stroke="#000" stroke-width="1.90" />
<line x1="495.75" y1="487.20" x2="495.75" y2="492.60" stroke="#000" stroke-width="1.90" />
<text x="495.8" y="507.2" font-size="14" font-weight="normal" fill="#1c1c1c" text-anchor="middle" >20</text>
<line x1="516.42" y1="487.20" x2="516.42" y2="490.20" stroke="#000" stroke-width="1.90" />
<line x1="537.10" y1="487.20" x2="537.10" y2="492.60" stroke="#000" stroke-width="1.90" />
<text x="537.1" y="507.2" font-size="14" font-weight="normal" fill="#1c1c1c" text-anchor="middle" >40</text>
<line x1="557.77" y1="487.20" x2="557.77" y2="490.20" stroke="#000" stroke-width="1.90" />
<line x1="578.45" y1="487.20" x2="578.45" y2="492.60" stroke="#000" stroke-width="1.90" />
<text x="578.4" y="507.2" font-size="14" font-weight="normal" fill="#1c1c1c" text-anchor="middle" >60</text>
<line x1="599.12" y1="487.20" x2="599.12" y2="490.20" stroke="#000" stroke-width="1.90" />
<line x1="619.80" y1="487.20" x2="619.80" y2="492.60" stroke="#000" stroke-width="1.90" />
<text x="619.8" y="507.2" font-size="14" font-weight="normal" fill="#1c1c1c" text-anchor="middle" >80</text>
<line x1="640.47" y1="487.20" x2="640.47" y2="490.20" stroke="#000" stroke-width="1.90" />
<line x1="661.15" y1="487.20" x2="661.15" y2="492.60" stroke="#000" stroke-width="1.90" />
<text x="661.1" y="507.2" font-size="14" font-weight="normal" fill="#1c1c1c" text-anchor="middle" >100</text>
<line x1="681.82" y1="487.20" x2="681.82" y2="490.20" stroke="#000" stroke-width="1.90" />
<text x="532.6" y="523.9" font-size="17" font-weight="bold" fill="#111" text-anchor="start" textLength="82.5" lengthAdjust="spacingAndGlyphs" >Strain (%<tspan dx="2">)</tspan></text>
<text transform="translate(408.3,459.8) rotate(-90)" font-size="17" font-weight="bold" fill="#111" textLength="108" lengthAdjust="spacingAndGlyphs">Stress (MPa)</text>
<text x="539.6" y="456.9" font-size="15" font-weight="bold" fill="#111" text-anchor="start" textLength="105.5" lengthAdjust="spacingAndGlyphs" >Healing before</text>
<text x="539.6" y="474.9" font-size="15" font-weight="bold" fill="#111" text-anchor="start" textLength="92.2" lengthAdjust="spacingAndGlyphs" >Healing after</text>
<line x1="652.60" y1="451.60" x2="689.60" y2="451.60" stroke="#000" stroke-width="2.00" />
<line x1="652.60" y1="469.90" x2="689.60" y2="469.90" stroke="#1515e8" stroke-width="2.00" />
<text x="12.6" y="567.5" font-size="23" font-weight="bold" fill="#111" text-anchor="start" textLength="28.0" lengthAdjust="spacingAndGlyphs" >(e)</text>
<defs>
<filter id="soft" color-interpolation-filters="sRGB" x="-5%" y="-5%" width="110%" height="110%"><feGaussianBlur stdDeviation="0.6"/></filter>
<filter id="blur3" color-interpolation-filters="sRGB" x="-20%" y="-20%" width="140%" height="140%"><feGaussianBlur stdDeviation="3"/></filter>
<filter id="blur2" color-interpolation-filters="sRGB" x="-50%" y="-50%" width="200%" height="200%"><feGaussianBlur stdDeviation="1.8"/></filter>
<linearGradient id="bg1" x1="0" y1="0" x2="1" y2="0"><stop offset="0" stop-color="#c9ccc8"/><stop offset="0.4" stop-color="#cdd0cc"/><stop offset="1" stop-color="#cfd2ce"/></linearGradient>
<linearGradient id="br1" x1="0" y1="0.2" x2="1" y2="0.8"><stop offset="0" stop-color="#440d05"/><stop offset="0.45" stop-color="#4a1105"/><stop offset="0.6" stop-color="#521707"/><stop offset="1" stop-color="#581a08"/></linearGradient>
<radialGradient id="br2" cx="0.6" cy="0.6" r="0.8"><stop offset="0" stop-color="#521808"/><stop offset="0.6" stop-color="#4c1506"/><stop offset="1" stop-color="#441005"/></radialGradient>
<linearGradient id="br3" x1="0" y1="0" x2="1" y2="1"><stop offset="0" stop-color="#2e0505"/><stop offset="1" stop-color="#340707"/></linearGradient>
<linearGradient id="tw1" gradientUnits="userSpaceOnUse" x1="58" y1="643" x2="82" y2="673"><stop offset="0.3" stop-color="#8c8c86"/><stop offset="0.5" stop-color="#70706a"/><stop offset="0.63" stop-color="#5c5c56"/><stop offset="0.67" stop-color="#b4b4ac"/><stop offset="0.71" stop-color="#403e3a"/><stop offset="1" stop-color="#4a4844"/></linearGradient>
<linearGradient id="tw2" gradientUnits="userSpaceOnUse" x1="320" y1="660" x2="345" y2="685"><stop offset="0.3" stop-color="#8a8a84"/><stop offset="0.55" stop-color="#9a9a94"/><stop offset="0.64" stop-color="#d8d8d0"/><stop offset="0.72" stop-color="#6a6a64"/><stop offset="0.9" stop-color="#5a5a54"/></linearGradient>
<linearGradient id="tw3" gradientUnits="userSpaceOnUse" x1="568" y1="676" x2="588.9" y2="689.8"><stop offset="0.17" stop-color="#8a8a84"/><stop offset="0.45" stop-color="#a0a098"/><stop offset="0.6" stop-color="#d8d8d0"/><stop offset="0.7" stop-color="#7a7a74"/><stop offset="0.9" stop-color="#55554f"/></linearGradient>
</defs>
<!-- photo 1 -->
<rect x="54" y="550" width="141" height="144.5" fill="url(#bg1)"/>
<g filter="url(#soft)">
<path d="M79.5,573.8 L161.5,572.6 L162.6,664.6 L87,666.6 L78.8,642 Z" fill="#450e05"/>
<clipPath id="film1"><path d="M79.5,573.8 L161.5,572.6 L162.6,664.6 L87,666.6 L78.8,642 Z"/></clipPath>
<g clip-path="url(#film1)"><g filter="url(#blur3)">
<path d="M116,570 L166,570 L166,655 L150,630 L127,607 L119,590 Z" fill="#581b07"/>
<path d="M78,640 L100,628 L130,630 L166,650 L166,670 L78,670 Z" fill="#4c1305"/>
</g></g>
<path d="M161.2,572.8 L163,574 L165.8,574.4 L165,620 L163.2,664.6 L161.8,664.8 Z" fill="#4a3226"/>
<path d="M79.5,574 L78.8,642 L80.4,642 L81,574 Z" fill="#6a3a18" opacity="0.6"/>
<path d="M87,666.6 L162.6,664.6 L163.2,665.6 L87,667.6 Z" fill="#2a1a14" opacity="0.8"/>
</g>
<g filter="url(#blur2)">
<path d="M96,636.5 L103,635.5 L107,639 L106,645 L100,650 L104,654 L111,655 L113,665.5 L88,666.5 Z" fill="#140604" opacity="0.9"/>
</g>
<g filter="url(#soft)">
<path d="M54,659.1 L96.2,636.2 L86.5,667.5 L56.3,694.5 L54,694.5 Z" fill="url(#tw1)"/>
<g stroke="#b8b8b0" stroke-width="1.6" opacity="0.75"><line x1="60" y1="679" x2="63.5" y2="684"/><line x1="68.5" y1="671" x2="72" y2="676"/><line x1="77" y1="663" x2="80.5" y2="668"/></g>
</g>
<!-- photo 2 -->
<rect x="303.2" y="550.3" width="141" height="144.2" fill="url(#bg1)"/>
<g filter="url(#soft)">
<path d="M331.2,577.2 L410.8,571.8 L413,611.6 L372,613.2 L361,613.8 L372,614.4 L411.8,616.4 L411.9,667.6 L356,668.9 L330.1,662 Z" fill="url(#br2)"/>
<path d="M331.2,600 L330.1,662 L333,660 L333.5,602 Z" fill="#a88a2a" opacity="0.65"/>
<path d="M372,613.2 L413,611.6 L413.5,611.6 L412,616.4 L372,614.4 Z" fill="#eceeea"/>
<path d="M362,613.6 L372,613.0 L372,614.3 Z" fill="#8a6a60" opacity="0.6"/>
</g>
<g filter="url(#blur2)">
<path d="M353,641 L360,639.5 L364,643 L363,652 L366,658 L366,668.5 L348,669.5 Z" fill="#140604" opacity="0.92"/>
</g>
<g filter="url(#soft)">
<path d="M303.2,691.1 L353.3,642.1 L349.5,669.5 L335.5,694.5 L303.2,694.5 Z" fill="url(#tw2)"/>
</g>
<!-- photo 3 -->
<rect x="548.9" y="550.3" width="140.7" height="144.5" fill="url(#bg1)"/>
<g filter="url(#soft)">
<path d="M575.6,572 L580.8,571.6 L580.8,672 L575.4,667.4 Z" fill="#a66a12"/>
<path d="M580.8,569.8 L661.2,574 L661.5,674.2 L580.5,673 Z" fill="url(#br3)"/>
<path d="M659.5,574 L662,574.5 L662.2,674 L659.8,674 Z" fill="#5a4a44" opacity="0.6"/>
</g>
<g filter="url(#blur2)">
<ellipse cx="603" cy="576" rx="10" ry="4.5" fill="#0a0202" opacity="0.85"/>
<ellipse cx="597" cy="646" rx="5" ry="5" fill="#0a0202" opacity="0.9"/>
<path d="M592,650 L600,648 L601,672 L592,672 Z" fill="#0a0202" opacity="0.9"/>
</g>
<g filter="url(#soft)">
<path d="M560.6,695 L590.5,649.6 L593.3,673.9 L587.2,695 Z" fill="url(#tw3)"/>
</g>

<text x="218.0" y="610.9" font-size="17" font-weight="bold" fill="#111" text-anchor="start" textLength="59.5" lengthAdjust="spacingAndGlyphs" >Cutting</text>
<line x1="209.60" y1="623.00" x2="279.00" y2="623.00" stroke="#808080" stroke-width="1.70" />
<path d="M277.6,619 L286.8,623 L277.6,627 Z" fill="#000"/>
<text x="455.0" y="611.0" font-size="16.5" font-weight="bold" fill="#111" text-anchor="start" textLength="84.0" lengthAdjust="spacingAndGlyphs" >120 <tspan font-size="11" dy="-3.6">o</tspan><tspan dy="3.6">C, 3 h</tspan></text>
<line x1="458.10" y1="623.00" x2="527.00" y2="623.00" stroke="#808080" stroke-width="1.70" />
<path d="M526.0,619 L535.0,623 L526.0,627 Z" fill="#000"/>
</svg>
</body></html>
